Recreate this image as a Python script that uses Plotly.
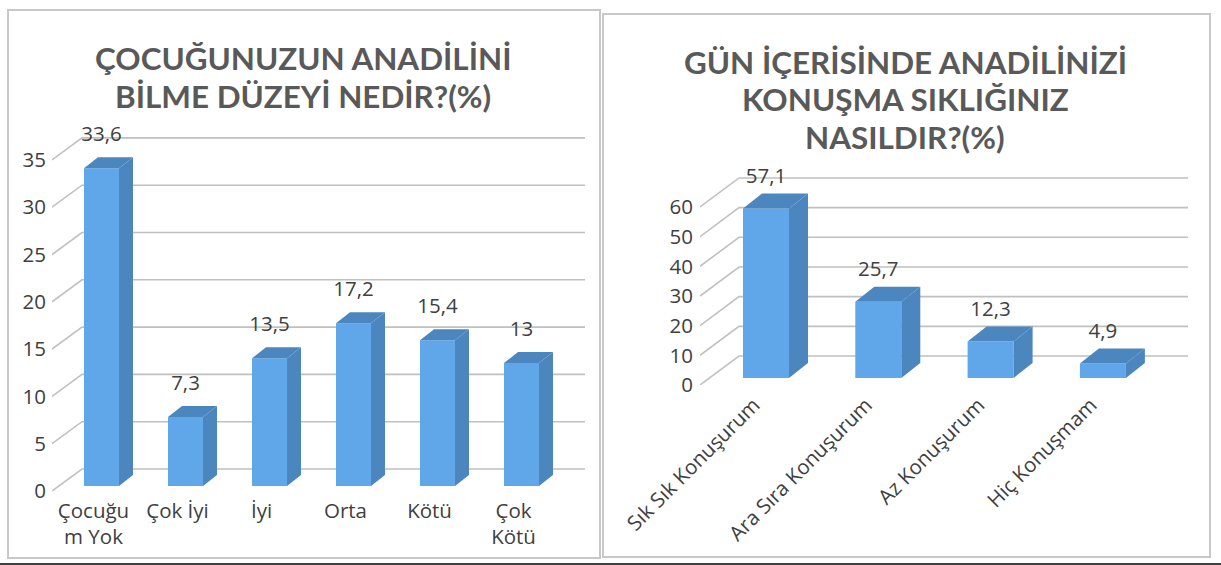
import plotly.graph_objects as go

WIDTH = 1221
HEIGHT = 565

# left chart
left_title = ["ÇOCUĞUNUZUN ANADİLİNİ", "BİLME DÜZEYİ NEDİR?(%)"]
left_categories = ["Çocuğu<br>m Yok", "Çok İyi", "İyi", "Orta", "Kötü", "Çok<br>Kötü"]
left_values = [33.6, 7.3, 13.5, 17.2, 15.4, 13]
left_ticks = [0, 5, 10, 15, 20, 25, 30, 35]

# right chart
right_title = ["GÜN İÇERİSİNDE ANADİLİNİZİ", "KONUŞMA SIKLIĞINIZ", "NASILDIR?(%)"]
right_categories = ["Sık Sık Konuşurum", "Ara Sıra Konuşurum", "Az Konuşurum", "Hiç Konuşmam"]
right_values = [57.1, 25.7, 12.3, 4.9]
right_ticks = [0, 10, 20, 30, 40, 50, 60]

FRONT = "#5fa7e8"
DARK = "#4c86bf"
GRID = "#c0c0c0"
TEXT = "#404040"
FONT = "Open Sans"
TITLE_FONT = "Lato"


# base axes hold the wall grid and tick labels, the overlay axes hold the bars
def add_chart(fig, n, categories, values, ticks, box):
    base_x, base_y = f"x{2 * n + 1}", f"y{2 * n + 1}"
    over_x, over_y = f"x{2 * n + 2}", f"y{2 * n + 2}"

    # pixels to data units
    x_unit = box["spacing"]
    y_unit = box["px_per_value"]
    x0 = (box["left"] - box["first_bar"]) / x_unit
    x1 = (box["right"] - box["first_bar"]) / x_unit
    y0 = (box["base"] - box["bottom"]) / y_unit
    y1 = (box["base"] - box["top"]) / y_unit
    half = box["bar_w"] / 2 / x_unit
    dx = box["bar_dx"] / x_unit
    dy = box["bar_dy"] / y_unit
    wall_x = x0 + box["wall_dx"] / x_unit
    wall_y = box["wall_dy"] / y_unit

    # wall gridlines
    for t in ticks:
        fig.add_trace(go.Scatter(
            x=[x0, wall_x, x1], y=[t + y0, t + y0 + wall_y, t + y0 + wall_y],
            mode="lines", line=dict(color=GRID, width=1.6),
            hoverinfo="skip", showlegend=False, xaxis=base_x, yaxis=base_y))

    xs = list(range(len(values)))
    fig.add_trace(go.Bar(
        x=xs, y=values, width=2 * half, marker=dict(color=FRONT, line=dict(width=0)),
        showlegend=False, xaxis=over_x, yaxis=over_y))

    # top and side faces
    for i, v in zip(xs, values):
        fig.add_trace(go.Scatter(
            x=[i - half, i + half, i + half + dx, i - half + dx, i - half],
            y=[v, v, v + dy, v + dy, v],
            mode="lines", fill="toself", fillcolor=DARK, line=dict(width=0),
            hoverinfo="skip", showlegend=False, xaxis=over_x, yaxis=over_y))
        fig.add_trace(go.Scatter(
            x=[i + half, i + half + dx, i + half + dx, i + half, i + half],
            y=[0, dy, v + dy, v, 0],
            mode="lines", fill="toself", fillcolor=DARK, line=dict(width=0),
            hoverinfo="skip", showlegend=False, xaxis=over_x, yaxis=over_y))

    # value labels
    labels = [str(v).replace(".", ",") for v in values]
    fig.add_trace(go.Scatter(
        x=xs, y=[v + box["label_gap"] / y_unit for v in values], text=labels,
        mode="text", textposition="middle center", cliponaxis=False,
        textfont=dict(family=FONT, size=box["font"], color=TEXT),
        hoverinfo="skip", showlegend=False, xaxis=over_x, yaxis=over_y))

    x_domain = [box["left"] / WIDTH, box["right"] / WIDTH]
    y_domain = [1 - box["bottom"] / HEIGHT, 1 - box["top"] / HEIGHT]
    tick_x = [i + box["cat_shift"] / x_unit for i in xs]

    fig.layout[f"xaxis{2 * n + 1}"] = dict(
        domain=x_domain, range=[x0, x1], anchor=base_y, showgrid=False, zeroline=False,
        showline=False, automargin=False, tickvals=tick_x, ticktext=categories,
        tickangle=box["cat_angle"], ticklabelstandoff=box["cat_standoff"],
        tickfont=dict(family=FONT, size=box["font"], color=TEXT))
    fig.layout[f"yaxis{2 * n + 1}"] = dict(
        domain=y_domain, range=[y0, y1], anchor=base_x, showgrid=False, zeroline=False,
        showline=False, automargin=False, tickvals=[t + y0 for t in ticks],
        ticktext=[str(t) for t in ticks], ticklabelstandoff=box["val_standoff"],
        tickfont=dict(family=FONT, size=box["font"], color=TEXT))
    fig.layout[f"xaxis{2 * n + 2}"] = dict(
        domain=x_domain, range=[x0, x1], anchor=over_y, overlaying=base_x, visible=False,
        automargin=False)
    fig.layout[f"yaxis{2 * n + 2}"] = dict(
        domain=y_domain, range=[y0, y1], anchor=over_x, overlaying=base_y, visible=False,
        automargin=False)


left_box = dict(left=52, right=585, top=130, bottom=491, base=486, first_bar=101.5, spacing=84,
                px_per_value=9.46, bar_w=35, bar_dx=14, bar_dy=11, wall_dx=30, wall_dy=22,
                label_gap=32, font=20.5, cat_shift=-8, cat_angle=0, cat_standoff=5, val_standoff=5)
right_box = dict(left=700, right=1188, top=170, bottom=385, base=378, first_bar=766, spacing=112.3,
                 px_per_value=2.967, bar_w=46, bar_dx=19, bar_dy=15, wall_dx=39, wall_dy=29,
                 label_gap=31, font=20.5, cat_shift=-12, cat_angle=-45, cat_standoff=3, val_standoff=6)

fig = go.Figure()
add_chart(fig, 0, left_categories, left_values, left_ticks, left_box)
add_chart(fig, 1, right_categories, right_values, right_ticks, right_box)

# one annotation per title line, the line spacing is tighter than plotly's <br>
title_font = dict(family=TITLE_FONT, size=31.4, color="#595959", weight="bold")
for text, y in zip(left_title, [58, 96]):
    fig.add_annotation(text=text, x=303 / WIDTH, y=1 - y / HEIGHT, xref="paper", yref="paper",
                       showarrow=False, font=title_font, xanchor="center", yanchor="middle")
for text, y in zip(right_title, [62, 99, 137]):
    fig.add_annotation(text=text, x=905 / WIDTH, y=1 - y / HEIGHT, xref="paper", yref="paper",
                       showarrow=False, font=title_font, xanchor="center", yanchor="middle")

# panel frames and the black rule at the bottom of the screenshot
panel = dict(type="rect", xref="paper", yref="paper", line=dict(color="#c8c8c8", width=2), layer="below")
fig.add_shape(x0=8 / WIDTH, x1=600 / WIDTH, y0=1 - 558 / HEIGHT, y1=1 - 10 / HEIGHT, **panel)
fig.add_shape(x0=603 / WIDTH, x1=1210 / WIDTH, y0=1 - 557 / HEIGHT, y1=1 - 14 / HEIGHT, **panel)
fig.add_shape(type="line", xref="paper", yref="paper", x0=0, x1=1, y0=1 - 564 / HEIGHT, y1=1 - 564 / HEIGHT,
              line=dict(color="#000000", width=1.5))

fig.update_layout(width=WIDTH, height=HEIGHT, margin=dict(l=0, r=0, t=0, b=0),
                  paper_bgcolor="white", plot_bgcolor="rgba(0,0,0,0)", showlegend=False, barmode="overlay")

fig.write_html("out.html", config=dict(displayModeBar=False), post_script="document.body.style.margin='0';")
